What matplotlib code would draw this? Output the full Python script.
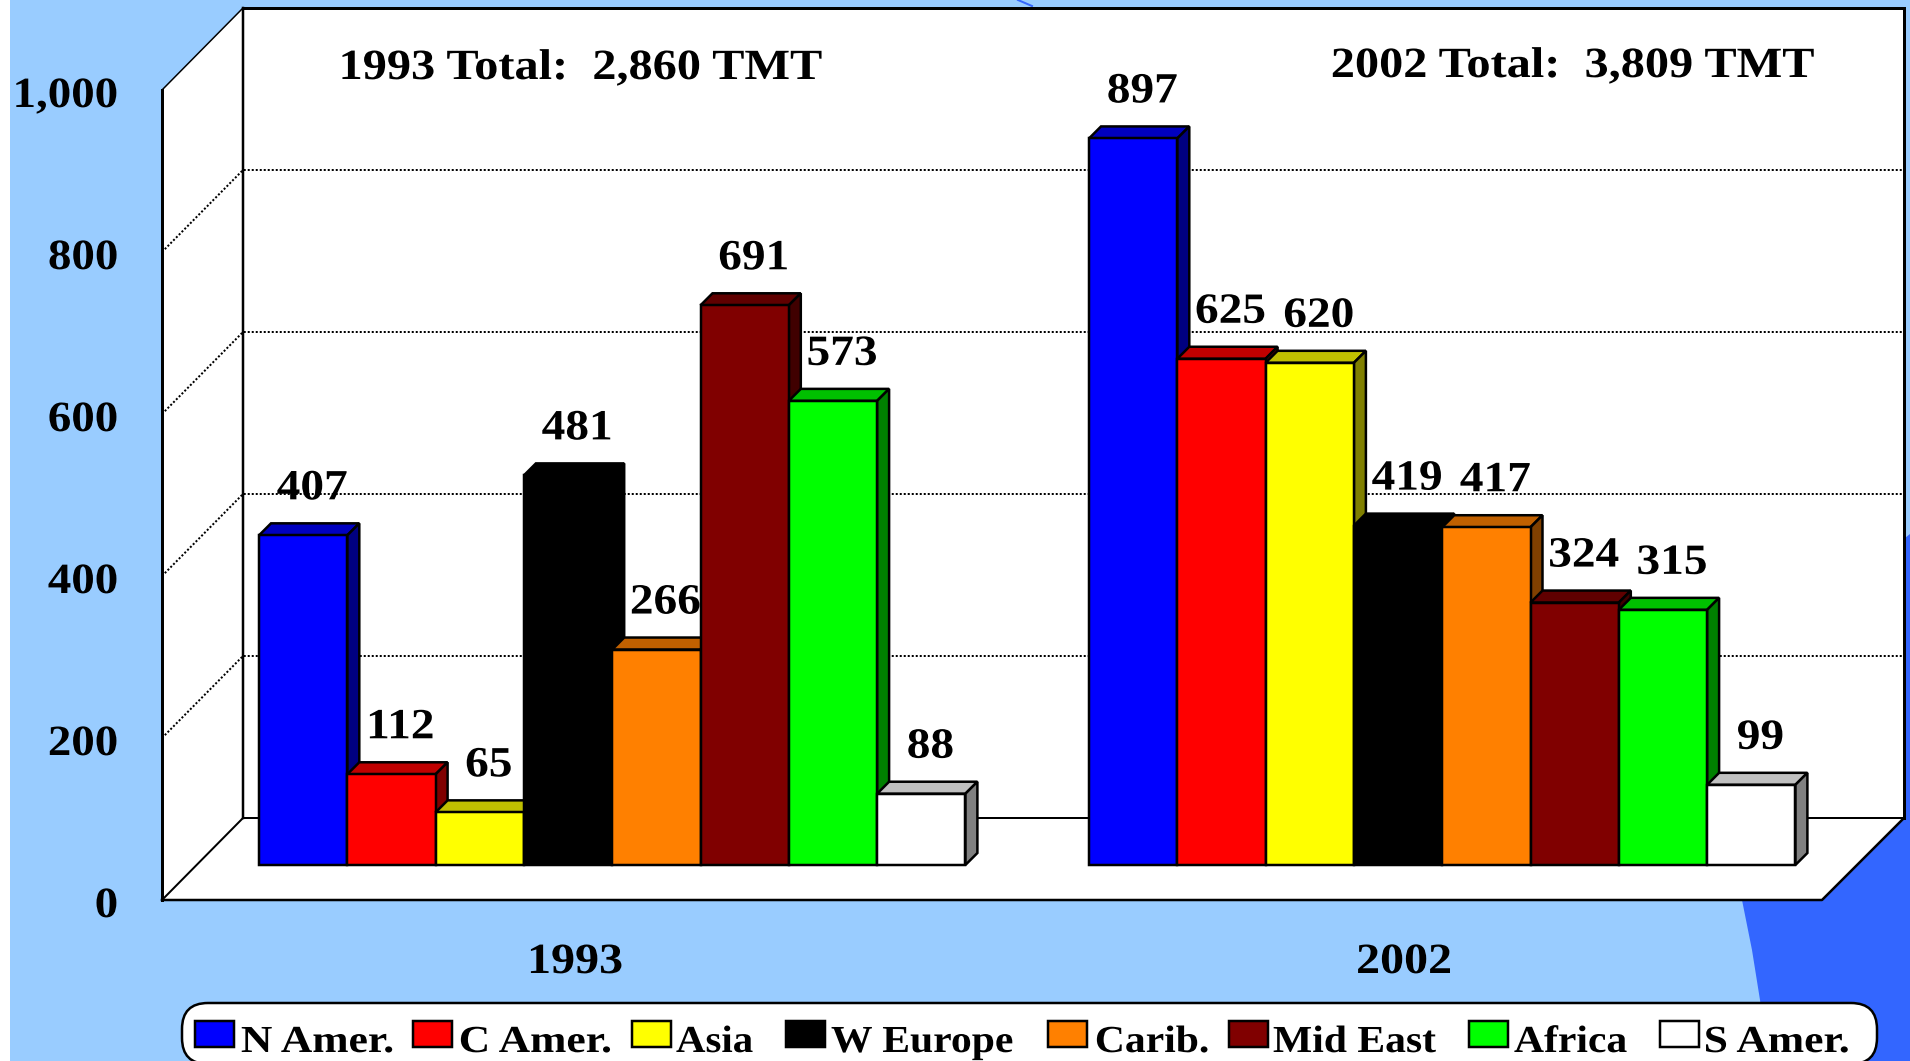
import matplotlib
matplotlib.use("Agg")
import matplotlib.pyplot as plt
from matplotlib.patches import Polygon, Rectangle, FancyBboxPatch
from matplotlib.patheffects import AbstractPathEffect
from matplotlib.transforms import Affine2D

REGIONS = ["N Amer.", "C Amer.", "Asia", "W Europe", "Carib.", "Mid East", "Africa", "S Amer."]
YEARS = ["1993", "2002"]
VALUES_1993 = [407, 112, 65, 481, 266, 691, 573, 88]
VALUES_2002 = [897, 625, 620, 419, 417, 324, 315, 99]
TOTALS = ["1993 Total:  2,860 TMT", "2002 Total:  3,809 TMT"]
Y_TICKS = [0, 200, 400, 600, 800, 1000]
Y_TICK_LABELS = ["0", "200", "400", "600", "800", "1,000"]

FRONT = ["#0000FF", "#FF0000", "#FFFF00", "#000000", "#FF8000", "#800000", "#00FF00", "#FFFFFF"]
TOP = ["#0000C0", "#C00000", "#C0C000", "#000000", "#C06000", "#600000", "#00C000", "#C0C0C0"]
SIDE = ["#000080", "#800000", "#808000", "#000000", "#804000", "#400000", "#008000", "#808080"]

LIGHT, DARK = "#99CCFF", "#3366FF"
W, H = 1910, 1061
BAR_PX, UNIT_PX = 88.3, 0.81   # one bar width, one value unit
X0_PX, Y0_PX = 259, 865        # where the first bar sits


def xd(px):
    return (px - X0_PX) / BAR_PX


def yd(py):
    return (Y0_PX - py) / UNIT_PX


def lw(px):
    return px * 0.72


class Widen(AbstractPathEffect):
    # the source has letter-spaced text, stretch it about left/centre/right
    def __init__(self, sx, anchor=0.0):
        self.sx = sx
        self.anchor = anchor

    def draw_path(self, renderer, gc, tpath, affine, rgbFace=None):
        box = tpath.get_extents()
        pivot = box.x0 + self.anchor * box.width
        stretch = Affine2D().translate(-pivot, 0).scale(self.sx, 1).translate(pivot, 0)
        renderer.draw_path(gc, tpath, stretch + affine, rgbFace)


plt.rcParams["font.family"] = ["Liberation Serif", "DejaVu Serif"]
plt.rcParams["font.weight"] = "bold"

fig = plt.figure(figsize=(W / 100, H / 100), dpi=100, facecolor="white")
ax = fig.add_axes([0, 0, 1, 1])
ax.set_xlim(xd(0), xd(W))
ax.set_ylim(yd(H), yd(0))
ax.axis("off")

# slide background
ax.add_patch(Rectangle((xd(10), yd(H)), xd(W) - xd(10), yd(0) - yd(H), fc=LIGHT, ec="none", zorder=0))
curve = [(1905, 538), (W, 534), (W, H), (1768, H), (1760, 1000), (1752, 950), (1742, 900), (1730, 860), (1700, 700)]
ax.add_patch(Polygon([(xd(a), yd(b)) for a, b in curve], fc=DARK, ec="none", zorder=1))
ax.plot([xd(1018), xd(1032)], [yd(0), yd(6)], color=DARK, lw=lw(2), zorder=1)

# box: floor and walls
xf_l, xb_l, xb_r, xf_r = xd(162), xd(243), xd(1904), xd(1822)
floor_f, floor_b = yd(900), yd(818)
top_v = Y_TICKS[-1]
box = [(xf_l, floor_f), (xf_l, floor_f + top_v), (xb_l, floor_b + top_v),
       (xb_r, floor_b + top_v), (xb_r, floor_b), (xf_r, floor_f)]
ax.add_patch(Polygon(box, fc="white", ec="none", zorder=2))

dots = (0, (1, 1))
for v in Y_TICKS[1:-1]:
    ax.plot([xf_l, xb_l, xb_r], [floor_f + v, floor_b + v, floor_b + v], color="black",
            lw=lw(2), ls=dots, dash_capstyle="butt", zorder=3)

edge = dict(color="black", solid_capstyle="projecting", zorder=4)
ax.plot([xf_l, xf_l], [floor_f, floor_f + top_v], lw=lw(3), **edge)
ax.plot([xb_l, xb_l], [floor_b, floor_b + top_v], lw=lw(2.5), **edge)
ax.plot([xb_r, xb_r], [floor_b, floor_b + top_v], lw=lw(3), **edge)
ax.plot([xf_l, xb_l], [floor_f + top_v, floor_b + top_v], lw=lw(1.5), **edge)
ax.plot([xb_l, xb_r], [floor_b + top_v, floor_b + top_v], lw=lw(3), **edge)
ax.plot([xf_l, xf_r, xb_r], [floor_f, floor_f, floor_b], lw=lw(2.5), **edge)
ax.plot([xf_l, xb_l, xb_r], [floor_f, floor_b, floor_b], lw=lw(2), **edge)

# bars, left to right so each one covers the side of the one before
dx, dy = 12 / BAR_PX, 12 / UNIT_PX
label_dx, label_dy = 9 / BAR_PX, 46 / UNIT_PX
bar_edge = dict(ec="black", lw=lw(2.5))
z = 5
for start, values in zip([0, xd(1089)], [VALUES_1993, VALUES_2002]):
    for i, v in enumerate(values):
        x = start + i
        ax.add_patch(Polygon([(x, v), (x + dx, v + dy), (x + 1 + dx, v + dy), (x + 1, v)],
                             fc=TOP[i], zorder=z, **bar_edge))
        ax.add_patch(Polygon([(x + 1, 0), (x + 1 + dx, dy), (x + 1 + dx, v + dy), (x + 1, v)],
                             fc=SIDE[i], zorder=z, **bar_edge))
        ax.bar(x, v, width=1, align="edge", color=FRONT[i], edgecolor="black", linewidth=lw(2.5), zorder=z + 1)
        ax.text(x + 0.5 + label_dx, v + label_dy, str(v), fontsize=31, ha="center", va="center", zorder=50,
                path_effects=[Widen(1.1, 0.5)])
        z += 2

# axis text
for v, s in zip(Y_TICKS, Y_TICK_LABELS):
    ax.text(xd(118), floor_f + v - 17 / UNIT_PX, s, fontsize=31, ha="right", va="baseline", zorder=50,
            path_effects=[Widen(1.09, 1.0)])
for year, px in zip(YEARS, [575, 1404]):
    ax.text(xd(px), yd(973), year, fontsize=31, ha="center", va="baseline", zorder=50,
            path_effects=[Widen(1.115, 0.5)])
for s, px, py in zip(TOTALS, [339, 1331], [79, 77]):
    ax.text(xd(px), yd(py), s, fontsize=31, ha="left", va="baseline", zorder=50,
            path_effects=[Widen(1.122)])

# legend panel, laid out in image pixels
to_image = Affine2D().scale(1, -1).translate(0, H)
ax.add_patch(FancyBboxPatch((208, 1029), 1643, 9, boxstyle="round,pad=26,rounding_size=26",
                            fc="white", ec="black", lw=lw(2.5), transform=to_image, zorder=61))

swatch_l = [195, 413, 632, 786, 1048, 1229, 1469, 1660]
label_l = [241, 459, 676, 831, 1095, 1273, 1514, 1704]
label_w = [1.14, 1.14, 1.07, 1.09, 1.09, 1.09, 1.09, 1.14]
for i, name in enumerate(REGIONS):
    ax.add_patch(Rectangle((xd(swatch_l[i]), yd(1047)), 39 / BAR_PX, 26 / UNIT_PX, fc=FRONT[i],
                           ec="black", lw=lw(2.5), zorder=62))
    ax.text(xd(label_l[i]), yd(1052), name, fontsize=27.5, ha="left", va="baseline", zorder=62,
            path_effects=[Widen(label_w[i])])

fig.savefig("out.png", dpi=100, facecolor=fig.get_facecolor())
